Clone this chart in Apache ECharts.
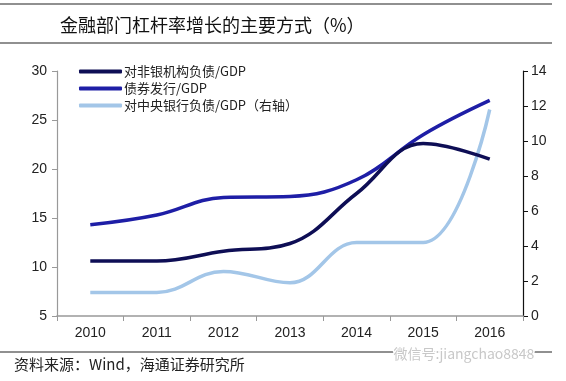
<!DOCTYPE html>
<html><head><meta charset="utf-8">
<script src="https://cdn.jsdelivr.net/npm/echarts@6/dist/echarts.min.js"></script>
<style>html,body{margin:0;padding:0;background:#fff}#c{width:566px;height:381px}</style>
</head><body><div id="c"></div>
<script>
const years = ['2010','2011','2012','2013','2014','2015','2016'];
const nonBank = [10.6, 10.6, 11.6, 12.4, 17.5, 22.6, 21.0];
const bond = [14.3, 15.3, 17.1, 17.2, 18.9, 23.5, 27.0];
const centralBank = [1.35, 1.35, 2.55, 1.9, 4.2, 4.2, 11.8];
const names = ['对非银机构负债/GDP', '债券发行/GDP', '对中央银行负债/GDP（右轴）'];
const leftTicks = [5, 30, 5];
const rightTicks = [0, 14, 2];

const chart = echarts.init(document.getElementById('c'));
const font = 'Liberation Sans, Arial, sans-serif';
chart.setOption({
  animation: false,
  backgroundColor: '#fff',
  title: {
    text: '金融部门杠杆率增长的主要方式（%）',
    left: 55, top: 11,
    textStyle: {fontFamily: 'Noto Sans CJK SC', fontSize: 18, fontWeight: 'normal', color: '#111'}
  },
  graphic: [
    {type: 'line', shape: {x1: 0, y1: 4, x2: 552, y2: 4}, style: {stroke: '#222', lineWidth: 1.2}},
    {type: 'line', shape: {x1: 0, y1: 43, x2: 552, y2: 43}, style: {stroke: '#222', lineWidth: 1.2}},
    {type: 'line', shape: {x1: 0, y1: 352, x2: 552, y2: 352}, style: {stroke: '#222', lineWidth: 1.2}},
    {type: 'text', left: 14, top: 357, style: {text: '资料来源：Wind，海通证券研究所', font: '15px "Noto Sans CJK SC"', fill: '#222'}},
    {type: 'text', left: 392, top: 345, z: 10, style: {text: '微信号:jiangchao8848', font: '14px "Noto Sans CJK SC"', fill: '#c8c8c8', stroke: '#fff', lineWidth: 3}}
  ],
  legend: {
    orient: 'vertical', left: 74, top: 60,
    icon: 'roundRect', itemWidth: 43, itemHeight: 4, itemGap: 4,
    textStyle: {fontFamily: 'Noto Sans CJK SC', fontSize: 13, lineHeight: 13, color: '#222', padding: [0,0,0,-3]},
    data: names
  },
  grid: {left: 57, right: 43, top: 71, bottom: 65},
  xAxis: {
    type: 'category', data: years, boundaryGap: true,
    axisLine: {lineStyle: {color: '#999', width: 1.5}},
    axisTick: {show: true, length: 5, lineStyle: {color: '#999'}},
    axisLabel: {fontFamily: font, fontSize: 14, color: '#222', margin: 10}
  },
  yAxis: [
    {
      type: 'value', min: leftTicks[0], max: leftTicks[1], interval: leftTicks[2],
      splitLine: {show: false},
      axisLine: {show: true, lineStyle: {color: '#999', width: 1.2}},
      axisTick: {show: true, length: 5, lineStyle: {color: '#999'}},
      axisLabel: {fontFamily: font, fontSize: 14, color: '#222', margin: 10}
    },
    {
      type: 'value', min: rightTicks[0], max: rightTicks[1], interval: rightTicks[2],
      splitLine: {show: false},
      axisLine: {show: true, lineStyle: {color: '#111', width: 1.2}},
      axisTick: {show: true, length: 5, lineStyle: {color: '#111'}},
      axisLabel: {fontFamily: font, fontSize: 14, color: '#222', margin: 8}
    }
  ],
  series: [
    {name: names[0], type: 'line', data: nonBank, smooth: 0.4, symbol: 'none',
     itemStyle: {color: '#0e0e55'}, lineStyle: {width: 3.5, color: '#0e0e55'}, z: 3},
    {name: names[1], type: 'line', data: bond, smooth: 0.4, symbol: 'none',
     itemStyle: {color: '#1e1ea6'}, lineStyle: {width: 3.5, color: '#1e1ea6'}, z: 2},
    {name: names[2], type: 'line', yAxisIndex: 1, data: centralBank, smooth: 0.4, symbol: 'none',
     itemStyle: {color: '#a3c6e8'}, lineStyle: {width: 3.5, color: '#a3c6e8'}, z: 1}
  ]
});
</script></body></html>
